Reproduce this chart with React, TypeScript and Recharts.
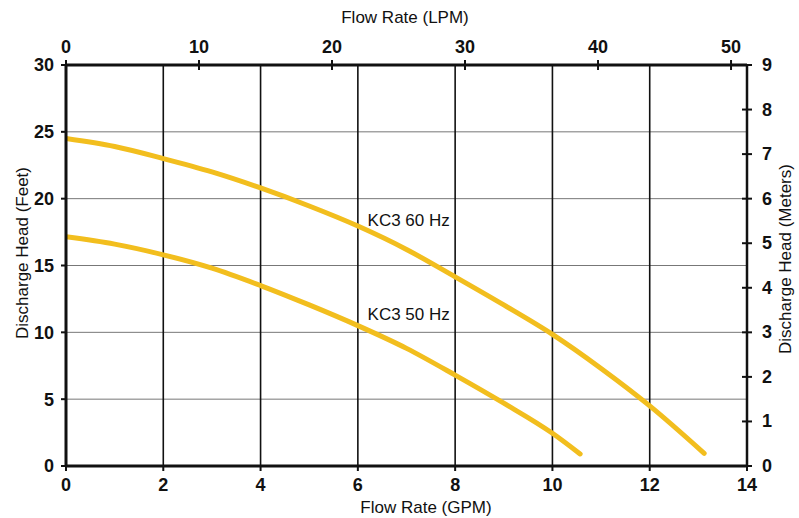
import React from "react";
import {
  CartesianGrid,
  Label,
  Line,
  LineChart,
  ReferenceDot,
  XAxis,
  YAxis,
} from "recharts";

// axis ticks
const gpmTicks = [0, 2, 4, 6, 8, 10, 12, 14];
const lpmTicks = [0, 10, 20, 30, 40, 50];
const feetTicks = [0, 5, 10, 15, 20, 25, 30];
const meterTicks = [0, 1, 2, 3, 4, 5, 6, 7, 8, 9];

// secondary axis ranges as printed on the sheet
const lpmDomain = [0, 51.2];
const meterDomain = [0, 9];

// pump curves: flow (GPM) vs discharge head (feet)
const kc3Hz60 = [
  { gpm: 0, feet: 24.5 },
  { gpm: 1, feet: 23.9 },
  { gpm: 2, feet: 23.0 },
  { gpm: 3, feet: 22.0 },
  { gpm: 4, feet: 20.8 },
  { gpm: 5, feet: 19.45 },
  { gpm: 6, feet: 17.95 },
  { gpm: 7, feet: 16.2 },
  { gpm: 8, feet: 14.15 },
  { gpm: 9, feet: 12.05 },
  { gpm: 10, feet: 9.85 },
  { gpm: 11, feet: 7.3 },
  { gpm: 12, feet: 4.5 },
  { gpm: 13.12, feet: 0.95 },
];

const kc3Hz50 = [
  { gpm: 0, feet: 17.15 },
  { gpm: 1, feet: 16.6 },
  { gpm: 2, feet: 15.8 },
  { gpm: 3, feet: 14.8 },
  { gpm: 4, feet: 13.5 },
  { gpm: 5, feet: 12.05 },
  { gpm: 6, feet: 10.5 },
  { gpm: 7, feet: 8.8 },
  { gpm: 8, feet: 6.8 },
  { gpm: 9, feet: 4.7 },
  { gpm: 10, feet: 2.45 },
  { gpm: 10.57, feet: 0.9 },
];

const curveLabels = [
  { text: "KC3 60 Hz", gpm: 6.2, feet: 17.95 },
  { text: "KC3 50 Hz", gpm: 6.2, feet: 10.9 },
];

// invisible helper so the LPM / metre axes get registered with a series
const secondaryRange = [
  { lpm: lpmDomain[0], m: meterDomain[0] },
  { lpm: lpmDomain[1], m: meterDomain[1] },
];

const CURVE = "#F2BE1E";
const INK = "#111";
const sans = "'Liberation Sans', Arial, sans-serif";
const TICK = 5;
const tickStyle = {
  fill: INK,
  fontSize: 18,
  fontWeight: "bold",
  fontFamily: sans,
};

const title = (text: string, x: number, y: number, rotate = false) => () =>
  (
    <text
      x={x}
      y={y}
      textAnchor="middle"
      dominantBaseline="central"
      transform={rotate ? `rotate(-90 ${x} ${y})` : undefined}
      fill={INK}
      fontSize={17}
      fontFamily={sans}
    >
      {text}
    </text>
  );

// ticks on the top and right axes cross the axis line
const TopTick = (props: any) => {
  const { x, y, payload } = props;
  const axisY = y + TICK + 7;
  return (
    <g>
      <line x1={x} x2={x} y1={axisY} y2={axisY + TICK} stroke={INK} strokeWidth={2} />
      <text x={x} y={y} textAnchor="middle" {...tickStyle}>
        {payload.value}
      </text>
    </g>
  );
};

const RightTick = (props: any) => {
  const { x, y, payload } = props;
  const axisX = x - TICK - 10;
  return (
    <g>
      <line x1={axisX - TICK} x2={axisX} y1={y} y2={y} stroke={INK} strokeWidth={2} />
      <text x={x} y={y} dominantBaseline="central" {...tickStyle}>
        {payload.value}
      </text>
    </g>
  );
};

export default function App() {
  return (
    <div style={{ position: "absolute", left: 0, top: 0, background: "#fff" }}>
      <LineChart
        width={799}
        height={518}
        margin={{ top: 0, right: 0, bottom: 0, left: 0 }}
      >
        <CartesianGrid vertical={false} stroke="#777" strokeWidth={1} />
        <CartesianGrid horizontal={false} stroke={INK} strokeWidth={1.6} />

        <XAxis
          dataKey="gpm"
          type="number"
          domain={[0, 14]}
          ticks={gpmTicks}
          height={52}
          tickSize={TICK}
          tickMargin={7}
          tick={tickStyle}
          axisLine={{ stroke: INK, strokeWidth: 3 }}
          tickLine={{ stroke: INK, strokeWidth: 2 }}
          allowDataOverflow
        >
          <Label content={title("Flow Rate (GPM)", 426, 507)} />
        </XAxis>
        <XAxis
          xAxisId="lpm"
          dataKey="lpm"
          orientation="top"
          type="number"
          domain={lpmDomain}
          ticks={lpmTicks}
          height={65}
          tickSize={TICK}
          tickMargin={7}
          tick={<TopTick />}
          axisLine={{ stroke: INK, strokeWidth: 3 }}
          tickLine={{ stroke: INK, strokeWidth: 2 }}
          allowDataOverflow
        >
          <Label content={title("Flow Rate (LPM)", 405, 17)} />
        </XAxis>
        <YAxis
          dataKey="feet"
          type="number"
          domain={[0, 30]}
          ticks={feetTicks}
          width={66}
          tickSize={TICK}
          tickMargin={7}
          tick={tickStyle}
          axisLine={{ stroke: INK, strokeWidth: 3 }}
          tickLine={{ stroke: INK, strokeWidth: 2 }}
          allowDataOverflow
        >
          <Label content={title("Discharge Head (Feet)", 22, 253, true)} />
        </YAxis>
        <YAxis
          yAxisId="m"
          dataKey="m"
          orientation="right"
          type="number"
          domain={meterDomain}
          ticks={meterTicks}
          width={52}
          tickSize={TICK}
          tickMargin={10}
          tick={<RightTick />}
          axisLine={{ stroke: INK, strokeWidth: 2.5 }}
          tickLine={{ stroke: INK, strokeWidth: 2 }}
          allowDataOverflow
        >
          <Label content={title("Discharge Head (Meters)", 785, 259, true)} />
        </YAxis>

        <Line
          data={secondaryRange}
          xAxisId="lpm"
          yAxisId="m"
          dataKey="m"
          stroke="none"
          dot={false}
          activeDot={false}
          legendType="none"
          isAnimationActive={false}
        />
        <Line
          data={kc3Hz60}
          dataKey="feet"
          type="monotone"
          stroke={CURVE}
          strokeWidth={5}
          strokeLinecap="round"
          dot={false}
          activeDot={false}
          isAnimationActive={false}
        />
        <Line
          data={kc3Hz50}
          dataKey="feet"
          type="monotone"
          stroke={CURVE}
          strokeWidth={5}
          strokeLinecap="round"
          dot={false}
          activeDot={false}
          isAnimationActive={false}
        />

        {curveLabels.map((c) => (
          <ReferenceDot
            key={c.text}
            x={c.gpm}
            y={c.feet}
            r={0}
            ifOverflow="visible"
            shape={(p: any) => (
              <text
                x={p.cx}
                y={p.cy}
                fill={INK}
                fontSize={17}
                fontFamily={sans}
              >
                {c.text}
              </text>
            )}
          />
        ))}
      </LineChart>
    </div>
  );
}
